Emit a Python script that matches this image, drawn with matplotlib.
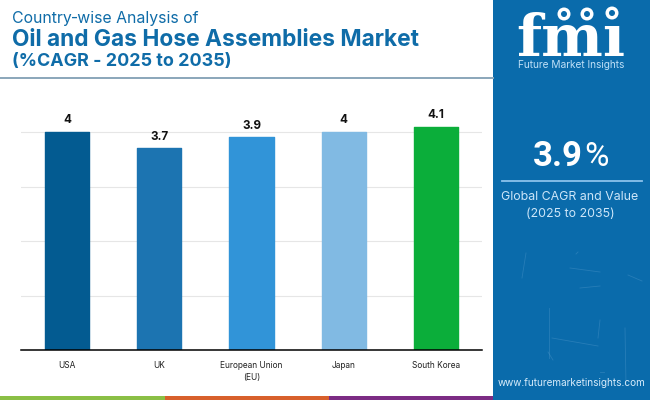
"""
Country-wise CAGR bar chart with the side panel and logo.
"""

import matplotlib
matplotlib.use("Agg")
import matplotlib.pyplot as plt
from matplotlib.patches import Rectangle, Circle

# DATA
countries = ["USA", "UK", "European Union\n(EU)", "Japan", "South Korea"]
cagr = [4, 3.7, 3.9, 4, 4.1]
bar_colors = ["#035B91", "#1C74B1", "#3194D8", "#81BAE3", "#0BAE3A"]
stripe_colors = ["#8ABF45", "#D8602C", "#7C2C84"]

W, H = 650, 400
BLUE = "#0A6BAB"
TITLE = "#0F6CA8"

plt.rcParams["font.family"] = ["Inter", "DejaVu Sans"]

fig = plt.figure(figsize=(6.5, 4), dpi=100, facecolor="white")

# full-figure layer in pixel coordinates, y going down
bg = fig.add_axes([0, 0, 1, 1], zorder=0)
bg.set_xlim(0, W)
bg.set_ylim(H, 0)
bg.axis("off")

# side panel
bg.add_patch(Rectangle((493, 0), 157, 400, color=BLUE, lw=0))

# faint texture on the panel
for x0, y0, x1, y1 in [(526, 253, 522, 278), (570, 268, 600, 272), (628, 275, 642, 281),
                       (580, 288, 600, 286), (549, 308, 549, 358), (552, 338, 598, 346),
                       (625, 328, 626, 385), (598, 338, 600, 320), (548, 352, 553, 360),
                       (576, 254, 578, 252), (600, 372, 604, 372)]:
    bg.plot([x0, x1], [y0, y1], color="#5C9FD0", lw=0.6, alpha=0.35)

# bottom stripes
for (x0, x1), c in zip([(0, 165), (165, 329), (329, 493)], stripe_colors):
    bg.add_patch(Rectangle((x0, 396), x1 - x0, 4, color=c, lw=0))

# header
bg.text(12, 19, "Country\u2011wise Analysis of", fontsize=11.4, color=TITLE, va="center")
bg.text(12, 39.5, "Oil and Gas Hose Assemblies Market", fontsize=16.4, color=TITLE,
        fontweight="bold", va="center")
bg.text(12, 62, "(%CAGR - 2025 to 2035)", fontsize=12.9, color=TITLE, fontweight="bold", va="center")
bg.plot([0, 493], [78, 78], color="#8AA6BA", lw=1.4)

# logo, the third circle stands in for the dot of the i
bg.text(571, 55.5, "fm\u0131", fontsize=42, color="white", family="DejaVu Serif", fontweight="bold",
        ha="center", va="baseline")
for y in range(22, 56, 4):
    bg.plot([515, 632], [y + 0.5, y + 0.5], color=BLUE, lw=0.8)
for x, y in [(564, 14), (587, 14), (612, 13)]:
    bg.add_patch(Circle((x, y), 6.5, color="white", lw=0, zorder=3))
    bg.add_patch(Circle((x, y), 3, color=BLUE, lw=0, zorder=4))
bg.text(571, 64.5, "Future Market Insights", fontsize=7.3, color="#BFE0F7", ha="center", va="center")

# panel figures
bg.text(583, 157, "3.9", fontsize=25, color="white", family="Roboto", fontweight="bold",
        ha="right", va="center")
bg.text(584, 157, "%", fontsize=24, color="white", family="Roboto", ha="left", va="center")
bg.plot([502, 642], [181, 181], color="#8CC3EC", lw=1.3)
bg.text(570, 197, "Global CAGR and Value", fontsize=8.9, color="#CDE6F9", ha="center", va="center")
bg.text(570, 214, "(2025 to 2035)", fontsize=8.9, color="#CDE6F9", ha="center", va="center")
bg.text(572, 383, "www.futuremarketinsights.com", fontsize=7.2, color="#D7ECFB", ha="center", va="center")

# chart
ax = fig.add_axes([21 / W, 50 / H, 461 / W, 240 / H], zorder=1)
ax.patch.set_alpha(0)
bars = ax.bar(range(len(countries)), cagr, width=0.478, color=bar_colors, zorder=2,
              edgecolor=bar_colors, linewidth=1, joinstyle="round")
ax.bar_label(bars, labels=[str(v) for v in cagr], padding=4, fontsize=8.4, fontweight="bold", color="#111111")
ax.set_xlim(-0.5, 4.5)
ax.set_ylim(0, 240 / 54.5)
ax.set_yticks([1, 2, 3, 4])
ax.tick_params(axis="y", left=False, labelleft=False)
ax.tick_params(axis="x", bottom=False, pad=4.5)
ax.set_xticks(range(len(countries)))
ax.set_xticklabels(countries, fontsize=6, color="#222222", linespacing=1.4)
ax.grid(axis="y", color="#E6E6E6", lw=0.8, zorder=0)
for s in ["top", "left", "right"]:
    ax.spines[s].set_visible(False)
ax.spines["bottom"].set_color("black")
ax.spines["bottom"].set_linewidth(1.1)

fig.savefig("out.png", dpi=100)
